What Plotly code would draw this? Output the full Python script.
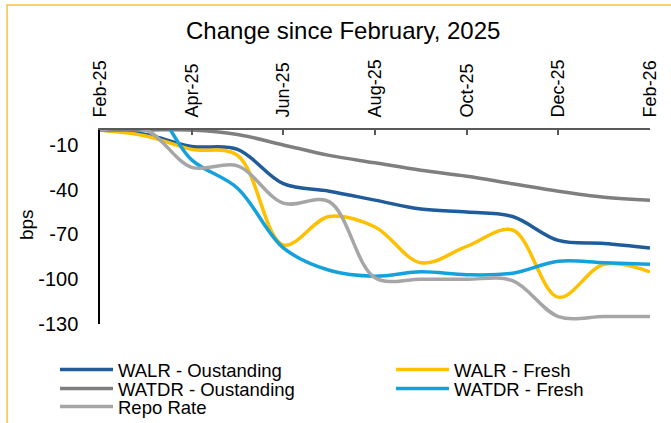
import plotly.graph_objects as go

months = ["Feb-25", "Mar-25", "Apr-25", "May-25", "Jun-25", "Jul-25", "Aug-25",
          "Sep-25", "Oct-25", "Nov-25", "Dec-25", "Jan-26", "Feb-26"]
tick_labels = ["Feb-25", "Apr-25", "Jun-25", "Aug-25", "Oct-25", "Dec-25", "Feb-26"]
y_ticks = [-10, -40, -70, -100, -130]
y_tick_labels = ["-10", "-40", "-70", "-100", "-130"]

walr_outstanding = [0, -3, -11, -13, -36, -41, -47, -53, -55, -58, -74, -76, -79]
walr_fresh = [0, -4, -13, -17, -77, -58, -65, -89, -78, -67, -112, -90, -95]
watdr_outstanding = [0, 0, 0, -3, -10, -17, -22, -27, -31, -36, -41, -45, -47]
watdr_fresh = [0, 18, -20, -39, -79, -94, -98, -95, -97, -96, -88, -89, -90]
repo_rate = [0, 0, -25, -24, -49, -48, -99, -100, -100, -101, -125, -125, -125]

font = "Arial, Liberation Sans, sans-serif"

fig = go.Figure()
# name, values, colour, legend id (one legend per entry to get the 2-column layout)
series = [
    ("WALR - Oustanding", walr_outstanding, "#1F5C99", "legend"),
    ("WALR - Fresh", walr_fresh, "#FFC000", "legend2"),
    ("WATDR - Oustanding", watdr_outstanding, "#7F7F7F", "legend3"),
    ("WATDR - Fresh", watdr_fresh, "#15A1DB", "legend4"),
    ("Repo Rate", repo_rate, "#A6A6A6", "legend5"),
]
for name, vals, color, leg in series:
    fig.add_trace(go.Scatter(
        x=months, y=vals, name=name, mode="lines", legend=leg,
        line=dict(color=color, width=3.5, shape="spline", smoothing=1),
    ))

fig.update_xaxes(
    type="category", side="top", range=[0, 12],
    tickmode="array", tickvals=tick_labels, ticktext=tick_labels,
    tickangle=-90, tickfont=dict(family=font, size=18, color="#000"),
    showline=True, linecolor="#595959", linewidth=2,
    ticks="inside", ticklen=5, tickcolor="#595959", tickwidth=1.5,
    ticklabelstandoff=7,
    showgrid=False, zeroline=False, automargin=False,
)
fig.update_yaxes(
    range=[-130, 0], tickmode="array", tickvals=y_ticks, ticktext=y_tick_labels,
    tickfont=dict(family=font, size=20, color="#000"),
    showline=True, linecolor="#000", linewidth=1.5,
    ticks="", ticklabelstandoff=16,
    showgrid=False, zeroline=False, automargin=False,
)

fig.add_annotation(
    text="Change since February, 2025", xref="paper", yref="paper",
    x=0.442, y=1.513, showarrow=False, xanchor="center", yanchor="middle",
    font=dict(family=font, size=24, color="#000"),
)
fig.add_annotation(
    text="bps", xref="paper", yref="paper", x=-0.1345, y=0.51,
    showarrow=False, textangle=-90, xanchor="center", yanchor="middle",
    font=dict(family=font, size=19, color="#000"),
)
fig.add_shape(
    type="rect", xref="paper", yref="paper",
    x0=-0.169, x1=1.2, y0=-0.7, y1=1.644,
    line=dict(color="#F7C33B", width=1.5), layer="below",
)

leg_style = dict(font=dict(family=font, size=18.5, color="#000"),
                 bgcolor="rgba(0,0,0,0)", xanchor="left", yanchor="middle",
                 itemwidth=53)
col1, col2 = -0.0818, 0.529
row1, row2, row3 = -0.237, -0.335, -0.428

fig.update_layout(
    width=671, height=423,
    margin=dict(l=100, r=21, t=130, b=99, autoexpand=False),
    paper_bgcolor="white", plot_bgcolor="white",
    showlegend=True,
    legend=dict(x=col1, y=row1, **leg_style),
    legend2=dict(x=col2, y=row1, **leg_style),
    legend3=dict(x=col1, y=row2, **leg_style),
    legend4=dict(x=col2, y=row2, **leg_style),
    legend5=dict(x=col1, y=row3, **leg_style),
)

fig.write_html("out.html", config={"displayModeBar": False},
               post_script="document.body.style.margin='0';")
